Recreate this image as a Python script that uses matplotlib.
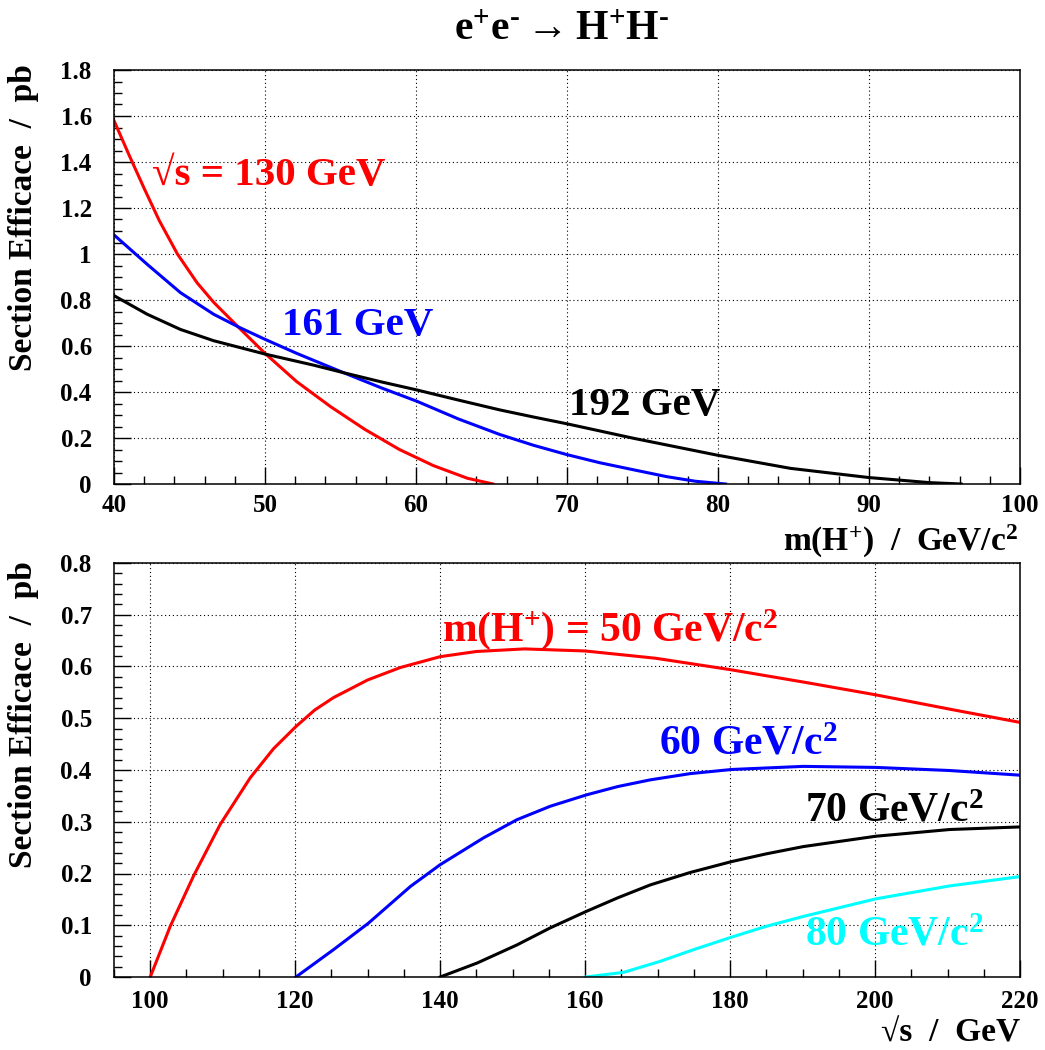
import matplotlib
matplotlib.use("Agg")
import matplotlib.pyplot as plt
from matplotlib.ticker import MultipleLocator, FixedLocator, FuncFormatter

plt.rcParams['font.family'] = ['Liberation Serif', 'DejaVu Serif']
plt.rcParams['font.weight'] = 'bold'
plt.rcParams['mathtext.fontset'] = 'custom'
plt.rcParams['mathtext.rm'] = 'Liberation Serif:bold'
plt.rcParams['mathtext.it'] = 'Liberation Serif:bold'
plt.rcParams['mathtext.bf'] = 'Liberation Serif:bold'

# ---- Top panel: sigma vs m(H+) for three sqrt(s) ----
m_130 = [40, 41, 42, 43, 44.2, 45.5, 46.6, 48.3, 50, 52.1, 54.35, 56.6, 58.9, 61.15, 63.4, 65.1]
s_130 = [1.58, 1.43, 1.285, 1.145, 1.0, 0.875, 0.79, 0.678, 0.568, 0.445, 0.336, 0.238, 0.150, 0.080, 0.025, 0.0]

m_161 = [40, 42.2, 44.4, 46.6, 48.3, 50, 52.1, 55.2, 57.7, 60.05, 62.8, 65.56, 67.8, 69.98, 72.2, 74.39, 76.6, 78.5, 80.5]
s_161 = [1.083, 0.955, 0.832, 0.738, 0.681, 0.629, 0.568, 0.484, 0.418, 0.360, 0.283, 0.215, 0.168, 0.128, 0.092, 0.062, 0.032, 0.012, 0.0]

m_192 = [40, 42.2, 44.4, 46.6, 50, 53.2, 55.2, 57.7, 60.05, 62.8, 65.56, 67.8, 69.98, 74.39, 79.9, 84.8, 90, 94, 96.1]
s_192 = [0.819, 0.738, 0.672, 0.623, 0.565, 0.517, 0.484, 0.444, 0.409, 0.365, 0.322, 0.291, 0.262, 0.199, 0.126, 0.068, 0.028, 0.006, 0.0]

# ---- Bottom panel: sigma vs sqrt(s) for four masses ----
e_50 = [100, 102.76, 106, 109.66, 113.8, 117, 120.1, 122.7, 125.3, 130, 134.5, 140, 145, 151.6, 160, 169.7, 180, 190.5, 200, 210.7, 220]
s_50 = [0.0, 0.098, 0.196, 0.295, 0.385, 0.441, 0.484, 0.516, 0.540, 0.574, 0.598, 0.619, 0.629, 0.634, 0.630, 0.616, 0.594, 0.569, 0.5455, 0.5165, 0.492]

e_60 = [120.1, 125.3, 130.1, 135.9, 140, 146, 150.6, 155.2, 160.2, 164.5, 169, 174.5, 180.2, 190.1, 200.1, 210.3, 220]
s_60 = [0.0, 0.053, 0.104, 0.175, 0.217, 0.269, 0.304, 0.330, 0.352, 0.368, 0.381, 0.393, 0.401, 0.407, 0.405, 0.399, 0.390]

e_70 = [140, 145.1, 150.6, 155.2, 160.2, 164.5, 169, 174.5, 180.2, 185, 190.1, 200.1, 210.3, 220]
s_70 = [0.0, 0.027, 0.062, 0.095, 0.127, 0.153, 0.178, 0.202, 0.223, 0.238, 0.252, 0.272, 0.285, 0.290]

e_80 = [160.1, 165.3, 170.3, 175, 180.2, 185, 190.1, 200.1, 210.3, 220]
s_80 = [0.0, 0.009, 0.030, 0.053, 0.077, 0.098, 0.117, 0.151, 0.176, 0.194]

title = r'e$^{+}$e$^{\text{-}}$$\rightarrow$H$^{+}$H$^{\text{-}}$'
ylabel = 'Section Efficace  /  pb'
xlabel_top = r'm(H$^{+}$)  /  GeV/c$^{2}$'
xlabel_bot = '\u221as  /  GeV'

W, H = 1045, 1050
fig = plt.figure(figsize=(W / 100, H / 100), dpi=100)

def frac(x0, y0, x1, y1):
    return [x0 / W, 1 - y1 / H, (x1 - x0) / W, (y1 - y0) / H]

ax1 = fig.add_axes(frac(114, 70, 1020, 484))
ax2 = fig.add_axes(frac(114, 563, 1020, 977))

lw = 2.2
ax1.plot(m_130, s_130, color='#ff0000', lw=lw)
ax1.plot(m_161, s_161, color='#0000ff', lw=lw)
ax1.plot(m_192, s_192, color='black', lw=lw)

ax2.plot(e_50, s_50, color='#ff0000', lw=lw)
ax2.plot(e_60, s_60, color='#0000ff', lw=lw)
ax2.plot(e_70, s_70, color='black', lw=lw)
ax2.plot(e_80, s_80, color='#00ffff', lw=lw)

ax1.set_xlim(40, 100)
ax1.set_ylim(0, 1.8)
ax2.set_xlim(95, 220)
ax2.set_ylim(0, 0.8)

ax1.xaxis.set_major_locator(MultipleLocator(10))
ax1.xaxis.set_minor_locator(MultipleLocator(2))
ax1.yaxis.set_major_locator(MultipleLocator(0.2))
ax1.yaxis.set_minor_locator(MultipleLocator(0.05))

ax2.xaxis.set_major_locator(FixedLocator([100, 120, 140, 160, 180, 200, 220]))
ax2.xaxis.set_minor_locator(MultipleLocator(5))
ax2.yaxis.set_major_locator(MultipleLocator(0.1))
ax2.yaxis.set_minor_locator(MultipleLocator(0.02))

def fmt(v, pos=None):
    s = ('%.1f' % v)
    if s.endswith('.0'):
        s = s[:-2]
    return s

for ax in (ax1, ax2):
    ax.yaxis.set_major_formatter(FuncFormatter(fmt))
    ax.xaxis.set_major_formatter(FuncFormatter(lambda v, p: '%d' % round(v)))
    ax.grid(True, which='major', color='black', lw=0.8, linestyle=(0, (1, 2.5)))
    ax.tick_params(which='both', direction='in', top=False, right=False, labelsize=18, width=1.0)
    ax.tick_params(which='major', length=12)
    ax.tick_params(which='minor', length=6)
    ax.tick_params(axis='y', which='major', pad=16)
    ax.tick_params(axis='x', which='major', pad=7)
    for sp in ax.spines.values():
        sp.set_linewidth(1.1)
    for lab in ax.get_xticklabels() + ax.get_yticklabels():
        lab.set_fontweight('bold')

ax2.tick_params(axis='x', which='major', pad=9)

fig.text(562 / W, 1 - 30 / H, title, ha='center', va='center', fontsize=30, fontweight='bold')

fig.text(24 / W, 1 - 64 / H, ylabel, rotation=90, ha='center', va='top', fontsize=24, fontweight='bold')
fig.text(24 / W, 1 - 561 / H, ylabel, rotation=90, ha='center', va='top', fontsize=24, fontweight='bold')

fig.text(1018 / W, 1 - 551 / H, xlabel_top, ha='right', va='baseline', fontsize=24, fontweight='bold')
fig.text(1020 / W, 1 - 1041 / H, xlabel_bot, ha='right', va='baseline', fontsize=24, fontweight='bold')

kw = dict(fontsize=29.5, fontweight='bold', ha='left', va='baseline')
ax1.text(42.5, 1.30, '\u221as = 130 GeV', color='#ff0000', **kw)
ax1.text(51.1, 0.648, '161 GeV', color='#0000ff', **kw)
ax1.text(70.1, 0.30, '192 GeV', color='black', **kw)

kw2 = dict(fontsize=30, fontweight='bold', ha='left', va='baseline')
ax2.text(140.2, 0.6485, r'm(H$^{+}$) = 50 GeV/c$^{2}$', color='#ff0000', **kw2)
ax2.text(170.25, 0.4296, r'60 GeV/c$^{2}$', color='#0000ff', **kw2)
ax2.text(190.34, 0.3007, r'70 GeV/c$^{2}$', color='black', **kw2)
ax2.text(190.34, 0.0605, r'80 GeV/c$^{2}$', color='#00ffff', **kw2)

fig.savefig('out.png', dpi=100)
